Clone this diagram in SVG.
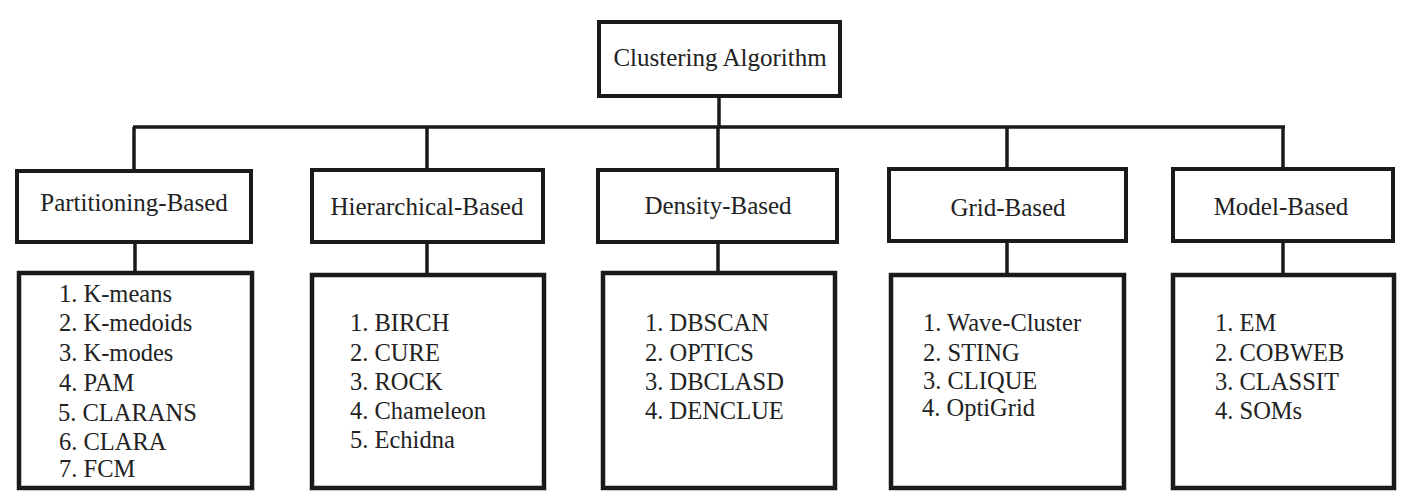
<svg xmlns="http://www.w3.org/2000/svg" width="1405" height="502" viewBox="0 0 1405 502">
<style>
.box{fill:#fff;stroke:#1a1a1a;stroke-width:4}
.list{fill:#fff;stroke:#1a1a1a;stroke-width:4.5}
.conn{stroke:#1a1a1a;stroke-width:3.5;fill:none}
text{font-family:"Times New Roman",Times,"Liberation Serif",Tinos,"Noto Serif","DejaVu Serif",serif;fill:#222}
.h{font-size:25px;text-anchor:middle}
.t{font-size:24.5px}
</style>
<rect width="1405" height="502" fill="#fff"/>
<g id="connectors">
<line class="conn" x1="719" y1="96" x2="719" y2="127"/>
<line class="conn" x1="133" y1="127" x2="1285" y2="127"/>
<line class="conn" x1="134" y1="127" x2="134" y2="171"/>
<line class="conn" x1="427" y1="127" x2="427" y2="170"/>
<line class="conn" x1="718" y1="127" x2="718" y2="170"/>
<line class="conn" x1="1007" y1="127" x2="1007" y2="169"/>
<line class="conn" x1="1283" y1="127" x2="1283" y2="169"/>
<line class="conn" x1="135" y1="242" x2="135" y2="273"/>
<line class="conn" x1="427" y1="242" x2="427" y2="275"/>
<line class="conn" x1="718" y1="242" x2="718" y2="273"/>
<line class="conn" x1="1007" y1="241" x2="1007" y2="275"/>
<line class="conn" x1="1283" y1="241" x2="1283" y2="275"/>
</g>
<g id="root">
<rect class="box" x="599" y="22" width="241" height="74"/>
<text class="h" x="720" y="66">Clustering Algorithm</text>
</g>
<g id="partitioning">
<rect class="box" x="17" y="171" width="234" height="71"/>
<text class="h" x="134" y="211">Partitioning-Based</text>
</g>
<g id="partitioning-list">
<rect class="list" x="19" y="273" width="233" height="215"/>
<text class="t" x="59" y="302">1. K-means</text>
<text class="t" x="59" y="331">2. K-medoids</text>
<text class="t" x="59" y="361">3. K-modes</text>
<text class="t" x="59" y="391">4. PAM</text>
<text class="t" x="58" y="421">5. CLARANS</text>
<text class="t" x="59" y="450">6. CLARA</text>
<text class="t" x="59" y="477">7. FCM</text>
</g>
<g id="hierarchical">
<rect class="box" x="312" y="170" width="231" height="72"/>
<text class="h" x="427" y="215">Hierarchical-Based</text>
</g>
<g id="hierarchical-list">
<rect class="list" x="312" y="275" width="232" height="213"/>
<text class="t" x="350" y="331">1. BIRCH</text>
<text class="t" x="350" y="361">2. CURE</text>
<text class="t" x="350" y="390">3. ROCK</text>
<text class="t" x="350" y="419">4. Chameleon</text>
<text class="t" x="350" y="448">5. Echidna</text>
</g>
<g id="density">
<rect class="box" x="598" y="170" width="239" height="72"/>
<text class="h" x="718" y="214">Density-Based</text>
</g>
<g id="density-list">
<rect class="list" x="603" y="273" width="232" height="215"/>
<text class="t" x="645" y="331">1. DBSCAN</text>
<text class="t" x="645" y="361">2. OPTICS</text>
<text class="t" x="645" y="390">3. DBCLASD</text>
<text class="t" x="645" y="419">4. DENCLUE</text>
</g>
<g id="grid">
<rect class="box" x="889" y="169" width="237" height="72"/>
<text class="h" x="1008" y="216">Grid-Based</text>
</g>
<g id="grid-list">
<rect class="list" x="891" y="275" width="233" height="213"/>
<text class="t" x="923" y="331">1. Wave-Cluster</text>
<text class="t" x="923" y="361">2. STING</text>
<text class="t" x="923" y="389">3. CLIQUE</text>
<text class="t" x="922" y="416">4. OptiGrid</text>
</g>
<g id="model">
<rect class="box" x="1173" y="169" width="220" height="72"/>
<text class="h" x="1281" y="215">Model-Based</text>
</g>
<g id="model-list">
<rect class="list" x="1173" y="275" width="221" height="213"/>
<text class="t" x="1215" y="331">1. EM</text>
<text class="t" x="1215" y="361">2. COBWEB</text>
<text class="t" x="1215" y="390">3. CLASSIT</text>
<text class="t" x="1215" y="419">4. SOMs</text>
</g>
</svg>
